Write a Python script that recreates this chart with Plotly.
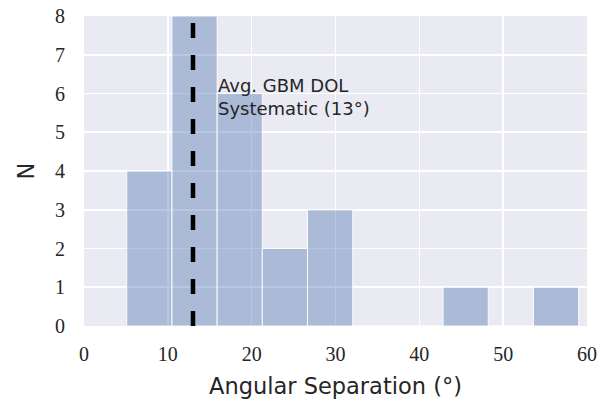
import plotly.graph_objects as go

# Histogram data (bin edges and counts)
bin_edges = [5.1, 10.49, 15.88, 21.27, 26.66, 32.05, 37.44, 42.83, 48.22, 53.61, 59.0]
counts = [4, 8, 6, 2, 3, 0, 0, 1, 0, 1]

avg_dol = 13
annotation_lines = ["Avg. GBM DOL", "Systematic (13°)"]

x_ticks = [0, 10, 20, 30, 40, 50, 60]
y_ticks = [0, 1, 2, 3, 4, 5, 6, 7, 8]

centers = [(a + b) / 2 for a, b in zip(bin_edges[:-1], bin_edges[1:])]
widths = [b - a for a, b in zip(bin_edges[:-1], bin_edges[1:])]

fig = go.Figure()
fig.add_trace(go.Bar(
    x=centers, y=counts, width=widths,
    marker=dict(color="rgba(76,114,176,0.4)",
                line=dict(color="rgba(255,255,255,0.9)", width=1)),
    showlegend=False, hoverinfo="skip",
))

fig.add_shape(type="line", x0=avg_dol, x1=avg_dol, y0=0, y1=8,
              xref="x", yref="y",
              line=dict(color="black", width=4.5, dash="15px,17px"))

fig.add_annotation(x=15.75, y=5.9, xref="x", yref="y",
                   text="<br>".join(annotation_lines), showarrow=False,
                   xanchor="left", yanchor="middle", align="left",
                   font=dict(family="DejaVu Sans", size=18, color="#262626"))

tick_font = dict(family="Liberation Serif", size=20, color="#262626")
label_font = dict(family="DejaVu Sans", size=22.5, color="#262626")

fig.update_layout(
    width=612, height=408,
    margin=dict(l=84, r=25, t=16, b=82),
    paper_bgcolor="white", plot_bgcolor="#EAEAF2",
    bargap=0,
    xaxis=dict(range=[0, 60], tickvals=x_ticks, showgrid=True,
               gridcolor="white", gridwidth=1.6, zeroline=False,
               showline=False, ticks="outside", ticklen=10,
               tickcolor="rgba(0,0,0,0)", tickfont=tick_font,
               ticklabeloverflow="allow", automargin="bottom",
               title=dict(text="Angular Separation (°)", font=label_font, standoff=14)),
    yaxis=dict(range=[0, 8], tickvals=y_ticks, showgrid=True,
               gridcolor="white", gridwidth=1.6, zeroline=False,
               showline=False, ticks="outside", ticklen=14,
               tickcolor="rgba(0,0,0,0)", tickfont=tick_font,
               ticklabeloverflow="allow", automargin="left",
               title=dict(text="N", font=label_font, standoff=14)),
)

fig.write_html("out.html",
               config={"displayModeBar": False, "staticPlot": True},
               post_script="document.body.style.margin='0';document.body.style.overflow='hidden';")
